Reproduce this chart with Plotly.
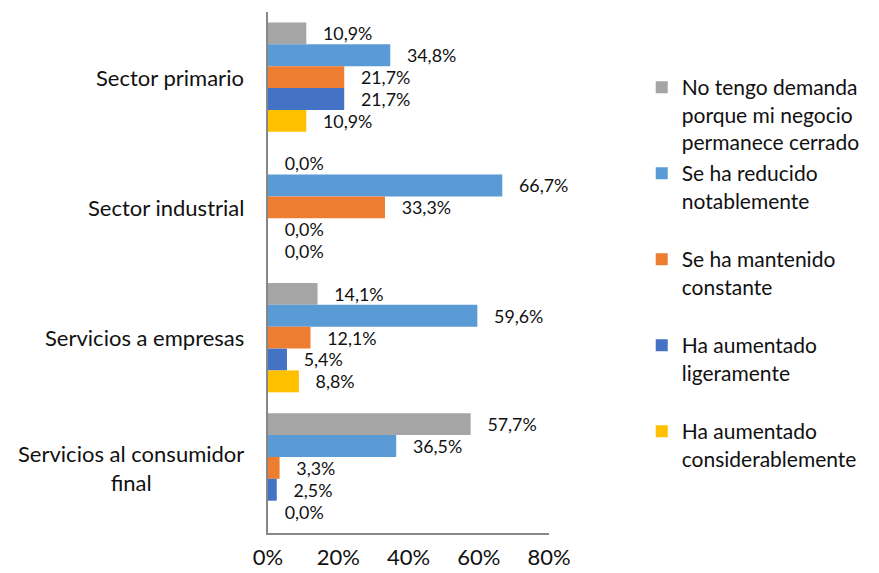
import plotly.graph_objects as go

categories = ["Sector primario", "Sector industrial", "Servicios a empresas",
              "Servicios al consumidor<br>final"]
series_names = [
    "No tengo demanda<br>porque mi negocio<br>permanece cerrado",
    "Se ha reducido<br>notablemente",
    "Se ha mantenido<br>constante",
    "Ha aumentado<br>ligeramente",
    "Ha aumentado<br>considerablemente",
]
no_demanda = [10.9, 0.0, 14.1, 57.7]
reducido = [34.8, 66.7, 59.6, 36.5]
mantenido = [21.7, 33.3, 12.1, 3.3]
ligeramente = [21.7, 0.0, 5.4, 2.5]
considerablemente = [10.9, 0.0, 8.8, 0.0]
series_values = [no_demanda, reducido, mantenido, ligeramente, considerablemente]
colors = ["#A5A5A5", "#5B9BD5", "#ED7D31", "#4472C4", "#FFC000"]
x_tickvals = [0, 20, 40, 60, 80]
x_ticktext = ["0%", "20%", "40%", "60%", "80%"]

FONT = "Lato"
FS = 22
LFS = 21
TXT = "#111111"
# page has an 8px body margin, so the figure is drawn 8px smaller
W, H = 871, 565
M = dict(l=260, r=330, t=4, b=40)
plot_h = H - M["t"] - M["b"]

fig = go.Figure()
legend_layouts = {}
for i, (name, vals, col) in enumerate(zip(series_names, series_values, colors)):
    lname = "legend" if i == 0 else f"legend{i + 1}"
    fig.add_trace(go.Bar(
        y=categories, x=vals, name=name, orientation="h",
        marker=dict(color=col, line=dict(width=0)),
        text=["\u00a0\u00a0\u00a0" + f"{v:.1f}%".replace(".", ",") for v in vals],
        textposition="outside", cliponaxis=False,
        textfont=dict(family=FONT, size=FS, color=TXT),
        legend=lname,
    ))
    top_px = 59 + i * 86
    legend_layouts[lname] = dict(
        x=1.33, y=(H - M["b"] - top_px) / plot_h, xanchor="left", yanchor="top",
        font=dict(family=FONT, size=LFS, color=TXT), valign="top",
        itemwidth=30, bgcolor="rgba(0,0,0,0)",
    )

for c in categories:
    fig.add_annotation(x=0, xref="paper", y=c, yref="y", text=c,
                       showarrow=False, xanchor="right", align="center",
                       xshift=-22, font=dict(family=FONT, size=FS, color=TXT))

fig.update_layout(
    width=W, height=H,
    margin=dict(**M, autoexpand=False),
    paper_bgcolor="white", plot_bgcolor="white",
    barmode="group", bargap=0.16, bargroupgap=0,
    showlegend=True,
    font=dict(family=FONT, size=FS, color=TXT),
    **legend_layouts,
)
fig.update_xaxes(range=[0, 80], tickmode="array", tickvals=x_tickvals,
                 ticktext=x_ticktext,
                 showgrid=False, zeroline=False, showline=True,
                 linecolor="#878787", linewidth=2, ticks="",
                 ticklabelstandoff=4,
                 tickfont=dict(family=FONT, size=FS, color=TXT))
fig.update_yaxes(autorange="reversed", showticklabels=False, showgrid=False,
                 zeroline=False, showline=True, linecolor="#878787",
                 linewidth=2, ticks="")
fig.write_html("out.html")
